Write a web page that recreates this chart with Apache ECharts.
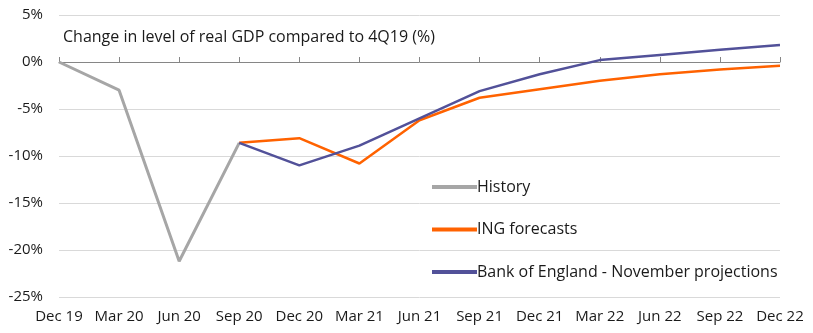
<!DOCTYPE html>
<html><head><meta charset="utf-8">
<script src="https://cdn.jsdelivr.net/npm/echarts@6/dist/echarts.min.js"></script>
<style>html,body{margin:0;padding:0;background:#fff}#c{width:813px;height:333px}</style>
</head><body><div id="c"></div>
<script>
const categories = ['Dec 19','Mar 20','Jun 20','Sep 20','Dec 20','Mar 21','Jun 21','Sep 21','Dec 21','Mar 22','Jun 22','Sep 22','Dec 22'];
const history = [0, -3.0, -21.2, -8.6, null, null, null, null, null, null, null, null, null];
const ingForecasts = [null, null, null, -8.6, -8.1, -10.8, -6.2, -3.8, -2.9, -2.0, -1.3, -0.8, -0.4];
const boeProjections = [null, null, null, -8.6, -11.0, -8.9, -6.0, -3.1, -1.3, 0.2, 0.75, 1.3, 1.8];
const yTicks = {min: -25, max: 5, interval: 5};
const titleText = 'Change in level of real GDP compared to 4Q19 (%)';

const font = 'Open Sans';
const chart = echarts.init(document.getElementById('c'), null, {renderer: 'canvas'});
chart.setOption({
  animation: false,
  textStyle: {fontFamily: font},
  title: {text: titleText, left: 58, top: 24, textStyle: {fontFamily: font, fontSize: 16, fontWeight: 'normal', color: '#1a1a1a'}},
  grid: {left: 59, right: 33, top: 15, bottom: 36},
  legend: {
    orient: 'vertical', left: 427, top: 174, itemWidth: 45, itemHeight: 4, itemGap: 26.5,
    icon: 'rect',
    textStyle: {fontFamily: font, fontSize: 16, color: '#1a1a1a', padding: [0,0,0,-5]},
    data: ['History', 'ING forecasts', 'Bank of England - November projections']
  },
  xAxis: [
    {type: 'category', data: categories, boundaryGap: false, position: 'bottom',
     axisLine: {show: false, onZero: false}, axisTick: {show: false},
     axisLabel: {fontFamily: font, fontSize: 15, color: '#1a1a1a', margin: 12, interval: 0}},
    {type: 'category', data: categories, boundaryGap: false,
     axisLine: {show: true, onZero: true, lineStyle: {color: '#868686', width: 1}},
     axisTick: {show: true, length: 5, inside: false, interval: 0, lineStyle: {color: '#868686'}},
     axisLabel: {show: false}}
  ],
  yAxis: {type: 'value', min: yTicks.min, max: yTicks.max, interval: yTicks.interval,
    axisLine: {show: false}, axisTick: {show: false},
    axisLabel: {fontFamily: font, fontSize: 15, color: '#1a1a1a', margin: 16, formatter: v => v + '%'},
    splitLine: {lineStyle: {color: '#d9d9d9', width: 1}}},
  series: [
    {name: 'History', type: 'line', data: history, xAxisIndex: 0, symbol: 'none', lineStyle: {color: '#a6a6a6', width: 3}, itemStyle: {color: '#a6a6a6'}},
    {name: 'ING forecasts', type: 'line', data: ingForecasts, xAxisIndex: 0, symbol: 'none', lineStyle: {color: '#ff6200', width: 2.5}, itemStyle: {color: '#ff6200'}},
    {name: 'Bank of England - November projections', type: 'line', data: boeProjections, xAxisIndex: 0, symbol: 'none', lineStyle: {color: '#525199', width: 2.5}, itemStyle: {color: '#525199'}, z: 3}
  ]
});
</script></body></html>
